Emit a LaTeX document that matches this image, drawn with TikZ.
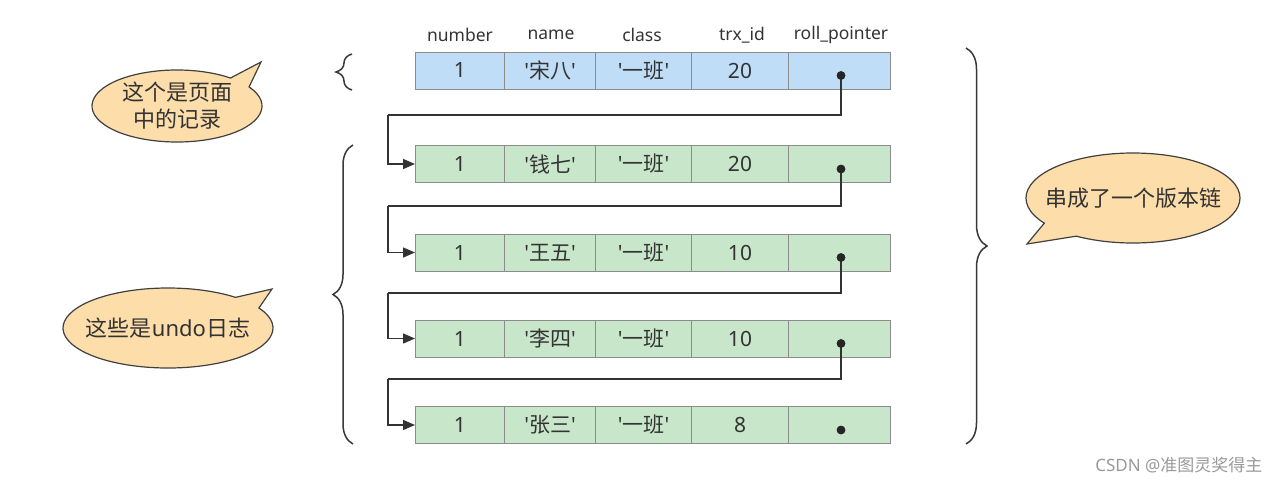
\documentclass[tikz,border=0pt]{standalone}
\usepackage{fontspec}
\setmainfont{Noto Sans}[Ligatures=TeXOff]
\newfontfamily\zhfont{Noto Sans CJK SC}[Ligatures=TeXOff]
\newcommand{\zh}[1]{{\zhfont #1}}
\usetikzlibrary{arrows.meta,decorations.pathreplacing,calc}
\definecolor{txt}{HTML}{333333}
\definecolor{cellline}{HTML}{8C8C8C}
\definecolor{bluefill}{HTML}{BFDDF7}
\definecolor{greenfill}{HTML}{C8E6CA}
\definecolor{calloutfill}{HTML}{FDDDAA}
\definecolor{lnk}{HTML}{333333}
\tikzset{
  cellbox/.style={draw=cellline, line width=1pt, minimum height=37pt, inner sep=0pt, text=txt, font=\fontsize{21}{23}\selectfont, anchor=west},
  hdr/.style={text=txt, font=\fontsize{17.5}{19}\selectfont},
  ptr/.style={draw=lnk, line width=1.4pt, -{Triangle[length=12pt,width=10pt]}},
  ptrdot/.style={fill=black!85, circle, inner sep=0pt, minimum size=8.5pt},
  bracestyle/.style={draw=black!78, line width=1.5pt, decorate},
  callout/.style={draw=black!75, line width=1.2pt, fill=calloutfill},
  callouttext/.style={text=txt, font=\fontsize{22}{27}\selectfont, align=center},
}
\begin{document}
\begin{tikzpicture}[x=1pt,y=-1pt]
\useasboundingbox (0,0) rectangle (1280,482);
% headers
\node[hdr] (h1) at (460,35) {number};
\node[hdr] (h2) at (551,35) {name};
\node[hdr] (h3) at (642,35) {class};
\node[hdr] (h4) at (742,35) {trx\_id};
\node[hdr] (h5) at (841,35) {roll\_pointer};
% rows
\def\colA{415}\def\colB{504}\def\colC{595}\def\colD{691}\def\colE{788}
\newcommand{\mkrow}[6]{%
  \node[cellbox, fill=#2, minimum width=89pt] (#1c1) at (\colA,#3) {1};
  \node[cellbox, fill=#2, minimum width=91pt] (#1c2) at (\colB,#3) {'\zh{#4}'};
  \node[cellbox, fill=#2, minimum width=96pt] (#1c3) at (\colC,#3) {'\zh{#5}'};
  \node[cellbox, fill=#2, minimum width=97pt] (#1c4) at (\colD,#3) {#6};
  \node[cellbox, fill=#2, minimum width=102pt] (#1c5) at (\colE,#3) {};
  \node[ptrdot] (#1d) at (841,#3+5) {};
}
\mkrow{ra}{bluefill}{70.5}{宋八}{一班}{20}
\mkrow{rb}{greenfill}{164}{钱七}{一班}{20}
\mkrow{rc}{greenfill}{252.5}{王五}{一班}{10}
\mkrow{rd}{greenfill}{338.5}{李四}{一班}{10}
\mkrow{re}{greenfill}{425}{张三}{一班}{8}
% connectors
\coordinate (ta) at (388,115);
\coordinate (tb) at (388,206);
\coordinate (tc) at (388,293);
\coordinate (td) at (388,379);
\draw[line width=1.4pt, draw=lnk] (rad.center) |- (ta);
\draw[ptr] (ta) |- (rbc1.west);
\draw[line width=1.4pt, draw=lnk] (rbd.center) |- (tb);
\draw[ptr] (tb) |- (rcc1.west);
\draw[line width=1.4pt, draw=lnk] (rcd.center) |- (tc);
\draw[ptr] (tc) |- (rdc1.west);
\draw[line width=1.4pt, draw=lnk] (rdd.center) |- (td);
\draw[ptr] (td) |- (rec1.west);
% redraw dots on top
\foreach \r in {ra,rb,rc,rd,re}{\fill[black!85] (\r d.center) circle (4.3pt);}
% braces
\coordinate (b1s) at (352,90); \coordinate (b1e) at (352,54);
\draw[bracestyle, decoration={brace, amplitude=16pt, aspect=0.5}] (b1s) -- (b1e);
\coordinate (b2s) at (353,444); \coordinate (b2e) at (353,145);
\draw[bracestyle, decoration={brace, amplitude=20pt, aspect=0.5}] (b2s) -- (b2e);
\coordinate (b3s) at (966,48); \coordinate (b3e) at (966,444);
\draw[bracestyle, decoration={brace, amplitude=21pt, aspect=0.5}] (b3s) -- (b3e);
% callouts
\draw[callout] ($(177,106)+(-32:85 and 36)$) arc[start angle=-32, end angle=309, x radius=85, y radius=36] -- (261,62) -- cycle;
\node[callouttext] (c1) at (177,106) {\zh{这个是页面}\\\zh{中的记录}};
\draw[callout] ($(168,328)+(-30:105 and 40)$) arc[start angle=-30, end angle=310, x radius=105, y radius=40] -- (272,289) -- cycle;
\node[callouttext] (c2) at (168,328) {\zh{这些是}undo\zh{日志}};
\draw[callout] ($(1133,198)+(146:107 and 45)$) arc[start angle=146, end angle=482, x radius=107, y radius=45] -- (1027,244) -- cycle;
\node[callouttext] (c3) at (1133,198) {\zh{串成了一个版本链}};
% watermark
\node[text=black!40, font=\fontsize{17}{19}\selectfont, anchor=east] (wm) at (1266,465) {CSDN @\zh{准图灵奖得主}};
\end{tikzpicture}
\end{document}
